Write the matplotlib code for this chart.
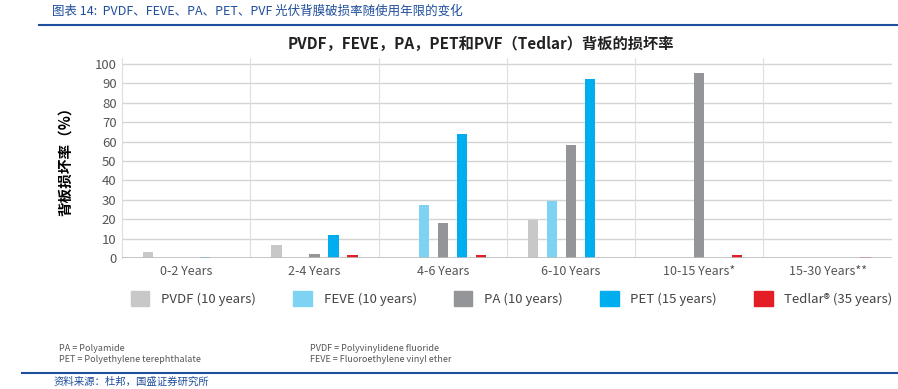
import matplotlib.pyplot as plt
import numpy as np
from matplotlib.patches import Patch

plt.rcParams['font.family'] = ['Noto Sans CJK SC', 'DejaVu Sans']

# data
periods = ['0-2 Years', '2-4 Years', '4-6 Years', '6-10 Years', '10-15 Years*', '15-30 Years**']
series = ['PVDF (10 years)', 'FEVE (10 years)', 'PA (10 years)', 'PET (15 years)', 'Tedlar® (35 years)']
pvdf = [3, 6.8, 0, 19.5, 0, 0]
feve = [0, 0, 27.5, 29.5, 0, 0]
pa = [0, 2, 18, 58, 95.5, 0]
pet = [0.7, 11.7, 64, 92, 0, 0]
tedlar = [0, 1.5, 1.5, 0, 1.5, 0.5]
values = [pvdf, feve, pa, pet, tedlar]
colors = ['#c8c8c8', '#7fd3f2', '#939598', '#00aeef', '#e31e24']

fig = plt.figure(figsize=(8.98, 3.89), dpi=100)
ax = fig.add_axes([0.136, 0.3368, 0.857, 0.514])

x = np.arange(len(periods))
step = 0.148
w = 0.08
for i, (vals, c) in enumerate(zip(values, colors)):
    ax.bar(x + (i - 2) * step, vals, width=w, color=c, zorder=3)

ax.set_xlim(-0.5, len(periods) - 0.5)
ax.set_ylim(0, 103)
ax.set_yticks(np.arange(0, 101, 10))
ax.set_xticks(x)
ax.set_xticklabels(periods, fontsize=9, color='#555555')
ax.tick_params(axis='y', labelsize=9.5, colors='#555555', length=0, pad=4)
ax.tick_params(axis='x', length=0, pad=5)
for yv in np.arange(10, 101, 10):
    ax.axhline(yv, color='#d4d4d4', lw=1, zorder=1)
for xv in np.arange(0.5, len(periods) - 0.5, 1):
    ax.axvline(xv, color='#dedede', lw=0.8, zorder=1)
for s in ['top', 'right', 'bottom']:
    ax.spines[s].set_visible(False)
ax.spines['left'].set_color('#dedede')
ax.axhline(0, color='#bcbcbc', lw=1.2, zorder=4)

ax.set_ylabel('背板损坏率（%）', fontsize=10.5, fontweight='bold', labelpad=16)

fig.text(0.535, 0.888, 'PVDF，FEVE，PA，PET和PVF（Tedlar）背板的损坏率', ha='center', va='center',
         fontsize=11, fontweight='bold', color='#222222')

fig.text(0.058, 0.972, '图表 14:  PVDF、FEVE、PA、PET、PVF 光伏背膜破损率随使用年限的变化', ha='left', va='center',
         fontsize=9, style='italic', color='#1f4e9c')
fig.add_artist(plt.Line2D([0.043, 1.0], [0.937, 0.937], color='#1f4e9c', lw=1.5))
fig.add_artist(plt.Line2D([0.025, 1.0], [0.04, 0.04], color='#1f4e9c', lw=1.5))
fig.text(0.06, 0.033, '资料来源：杜邦，国盛证券研究所', ha='left', va='top',
         fontsize=7.5, style='italic', color='#1f4e9c')

handles = [Patch(color=c) for c in colors]
fig.legend(handles, series, loc='lower left', bbox_to_anchor=(0.14, 0.2, 0.86, 0.1), mode='expand',
           ncol=5, frameon=False, fontsize=9.5, handlelength=1.4, handleheight=1.4, handletextpad=0.9,
           labelcolor='#444444', borderaxespad=0)

fig.text(0.066, 0.09, 'PA = Polyamide\nPET = Polyethylene terephthalate', ha='left', va='center',
         fontsize=6.5, color='#555555', linespacing=1.3)
fig.text(0.345, 0.09, 'PVDF = Polyvinylidene fluoride\nFEVE = Fluoroethylene vinyl ether', ha='left', va='center',
         fontsize=6.5, color='#555555', linespacing=1.3)

fig.savefig('out.png', dpi=100)
plt.close()
